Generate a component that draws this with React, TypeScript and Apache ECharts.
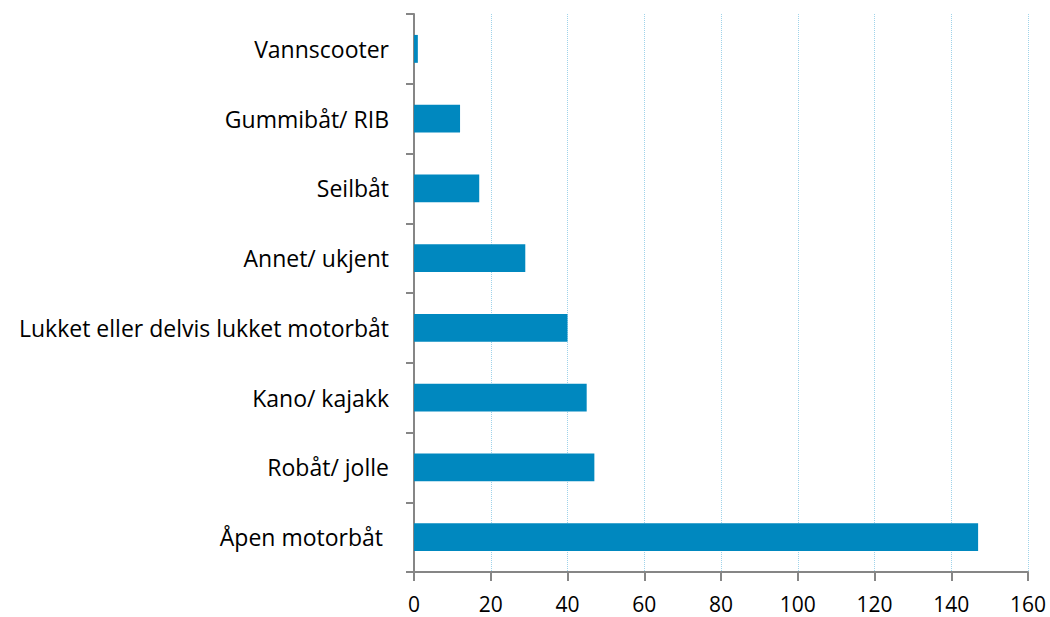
import React, { useEffect, useRef } from "react";
import * as echarts from "echarts";

const categories = [
  "Åpen motorbåt ",
  "Robåt/ jolle",
  "Kano/ kajakk",
  "Lukket eller delvis lukket motorbåt",
  "Annet/ ukjent",
  "Seilbåt",
  "Gummibåt/ RIB",
  "Vannscooter",
];
const values = [147, 47, 45, 40, 29, 17, 12, 1];
const xMin = 0;
const xMax = 160;
const xInterval = 20;

export default function App() {
  const ref = useRef<HTMLDivElement>(null);
  useEffect(() => {
    if (!ref.current) return;
    const chart = echarts.init(ref.current, null, { renderer: "svg" });
    const font = "'Open Sans', sans-serif";
    chart.setOption({
      animation: false,
      grid: { left: 414, right: 22, top: 14, bottom: 45, containLabel: false },
      xAxis: {
        type: "value",
        min: xMin,
        max: xMax,
        interval: xInterval,
        axisLine: { show: true, lineStyle: { color: "#868686", width: 2 } },
        axisTick: { show: true, length: 9, lineStyle: { color: "#868686", width: 2 } },
        axisLabel: { color: "#000", fontSize: 21, lineHeight: 21, fontFamily: font, margin: 21 },
        splitLine: { show: true, lineStyle: { color: "#9fd3ea", type: "dotted", width: 1 } },
      },
      yAxis: {
        type: "category",
        data: categories,
        axisLine: { show: true, lineStyle: { color: "#868686", width: 2 } },
        axisTick: { show: true, length: 8, alignWithLabel: false, lineStyle: { color: "#868686", width: 2 } },
        axisLabel: { color: "#000", fontSize: 23, fontFamily: font, margin: 25 },
        splitLine: { show: false },
      },
      series: [
        {
          type: "bar",
          data: values,
          barWidth: "40%",
          itemStyle: { color: "#0088bf" },
        },
      ],
    });
    return () => chart.dispose();
  }, []);
  return (
    <div
      ref={ref}
      style={{ position: "fixed", left: 0, top: 0, width: 1050, height: 617, background: "#fff" }}
    />
  );
}
